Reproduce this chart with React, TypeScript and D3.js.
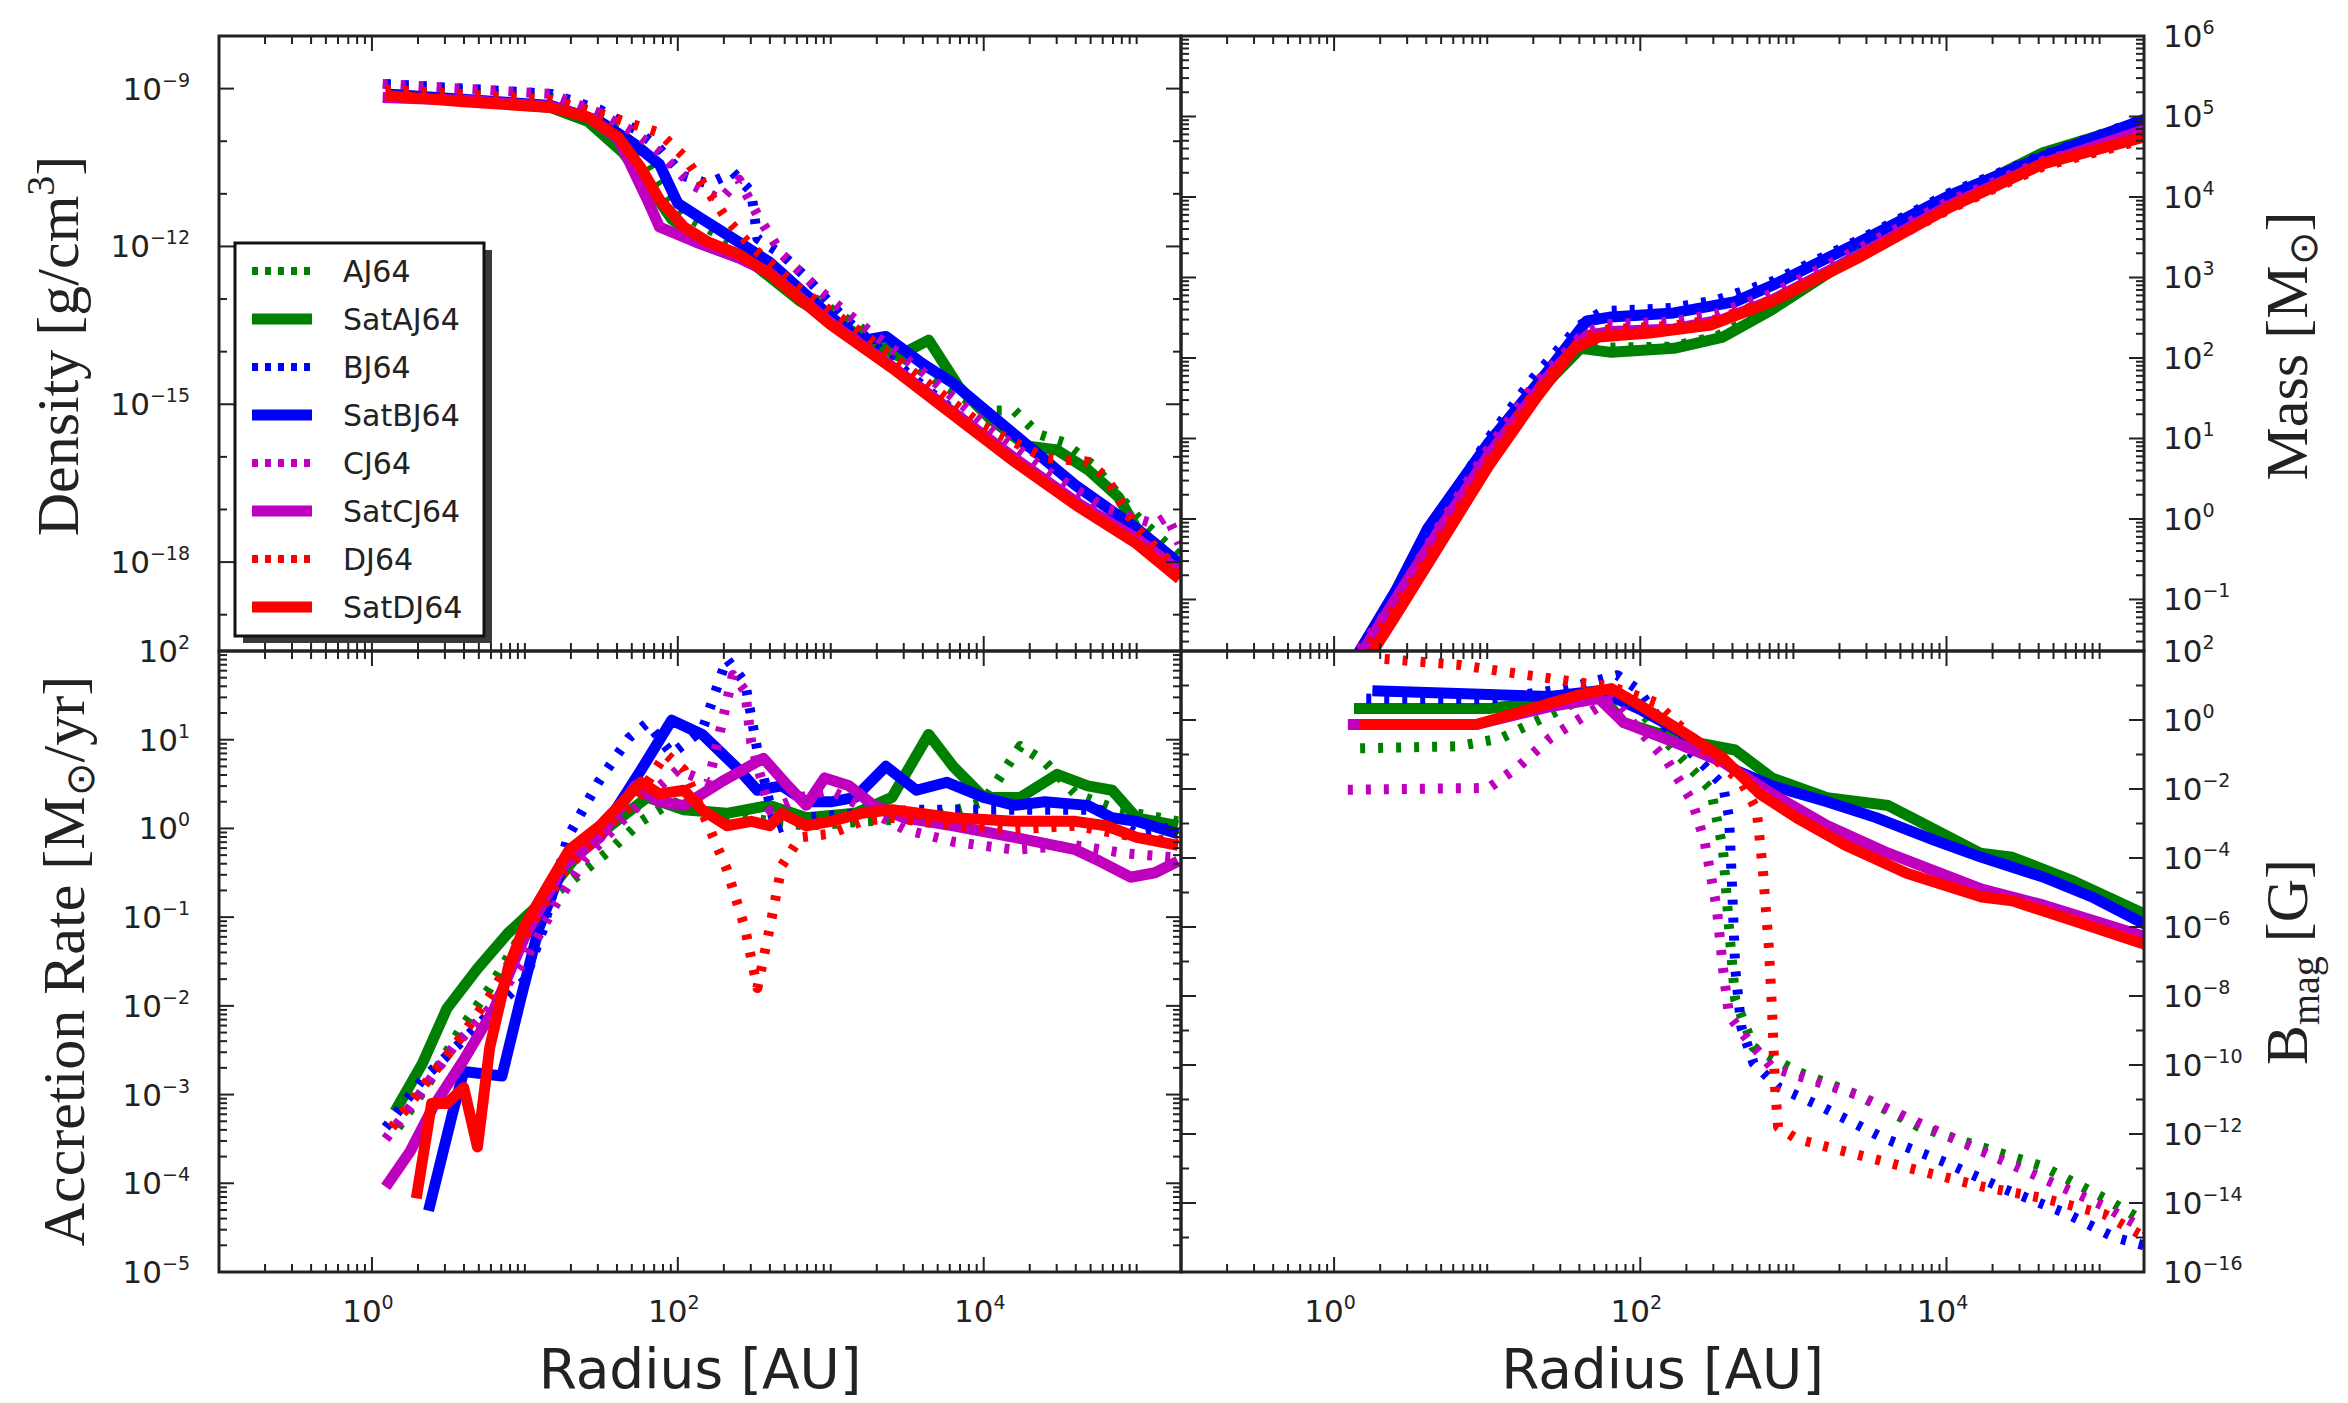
import * as d3 from 'd3'

// series names / styles (legend order = draw order)
const names = ['AJ64', 'SatAJ64', 'BJ64', 'SatBJ64', 'CJ64', 'SatCJ64', 'DJ64', 'SatDJ64']
const colors = ['#008000', '#008000', '#0000ff', '#0000ff', '#bf00bf', '#bf00bf', '#ff0000', '#ff0000']
const dotted = [true, false, true, false, true, false, true, false]

// all points are [log10 radius (AU), log10 value]
// --- density [g/cm^3]
const densAJ64 = [[0.09,-8.95],[1.17,-9.17],[1.49,-9.54],[1.72,-10.06],[1.88,-10.81],[2.04,-11.4],[2.4,-12.0],[2.8,-12.82],[3.2,-13.56],[3.6,-14.38],[4.0,-15.12],[4.2,-15.12],[4.36,-15.57],[4.52,-15.72],[4.72,-16.17],[5.0,-17.13],[5.28,-17.88]]
const densSatAJ64 = [[0.09,-9.1],[1.17,-9.36],[1.41,-9.62],[1.64,-10.21],[1.8,-10.81],[1.96,-11.48],[2.2,-12.0],[2.48,-12.3],[2.8,-13.04],[3.2,-13.71],[3.44,-14.08],[3.64,-13.78],[3.84,-14.68],[4.04,-15.27],[4.28,-15.79],[4.48,-15.87],[4.68,-16.24],[4.88,-16.76],[5.0,-17.36],[5.28,-18.03]]
const densBJ64 = [[0.09,-8.91],[1.17,-9.1],[1.49,-9.4],[1.72,-9.77],[1.88,-10.14],[2.04,-10.66],[2.2,-10.81],[2.36,-10.59],[2.48,-10.96],[2.52,-11.85],[2.68,-12.15],[2.84,-12.59],[3.08,-13.34],[3.4,-14.16],[3.8,-15.12],[4.2,-16.09],[4.6,-16.83],[5.0,-17.51],[5.28,-18.1]]
const densSatBJ64 = [[0.09,-9.1],[1.17,-9.32],[1.49,-9.62],[1.72,-10.06],[1.88,-10.44],[2.0,-11.18],[2.16,-11.48],[2.4,-11.92],[2.6,-12.3],[3.0,-13.34],[3.2,-13.79],[3.36,-13.71],[3.6,-14.23],[3.8,-14.6],[4.2,-15.57],[4.6,-16.54],[5.0,-17.36],[5.28,-18.03]]
const densCJ64 = [[0.07,-8.91],[1.17,-9.1],[1.49,-9.47],[1.72,-9.84],[1.88,-10.21],[2.08,-10.81],[2.28,-11.11],[2.4,-10.73],[2.52,-11.4],[2.68,-12.15],[2.92,-12.82],[3.2,-13.49],[3.6,-14.38],[4.0,-15.35],[4.4,-16.24],[4.8,-16.98],[5.12,-17.28],[5.2,-17.13],[5.28,-17.65]]
const densSatCJ64 = [[0.07,-9.17],[0.6,-9.22],[1.17,-9.34],[1.41,-9.54],[1.61,-9.95],[1.8,-11.11],[1.88,-11.63],[2.12,-11.92],[2.4,-12.22],[2.6,-12.5],[3.0,-13.45],[3.4,-14.28],[3.8,-15.15],[4.2,-16.02],[4.6,-16.85],[5.0,-17.55],[5.28,-18.17]]
const densDJ64 = [[0.09,-9.02],[1.17,-9.21],[1.49,-9.47],[1.72,-9.69],[1.88,-9.84],[2.04,-10.29],[2.2,-10.96],[2.32,-11.48],[2.48,-12.0],[2.8,-12.82],[3.2,-13.64],[3.6,-14.53],[4.0,-15.42],[4.4,-16.02],[4.68,-16.09],[4.8,-16.39],[5.0,-17.36],[5.28,-18.17]]
const densSatDJ64 = [[0.09,-9.13],[0.6,-9.25],[1.17,-9.36],[1.41,-9.54],[1.61,-9.92],[1.76,-10.51],[1.88,-11.11],[2.04,-11.63],[2.2,-11.92],[2.4,-12.15],[2.6,-12.52],[3.0,-13.49],[3.4,-14.31],[3.8,-15.2],[4.2,-16.09],[4.6,-16.91],[5.0,-17.65],[5.28,-18.32]]

// --- enclosed mass [Msun]
const massAJ64 = [[0.1,-1.9],[0.4,-1.15],[0.7,-0.28],[1.0,0.68],[1.3,1.55],[1.6,2.16],[1.8,2.13],[2.2,2.14],[2.5,2.27],[2.86,2.62],[3.42,3.3],[4.02,3.96],[4.63,4.52],[5.3,4.93]]
const massSatAJ64 = [[0.1,-1.95],[0.4,-1.1],[0.7,-0.22],[1.01,0.75],[1.41,1.73],[1.61,2.12],[1.81,2.07],[2.22,2.12],[2.54,2.26],[2.86,2.6],[3.42,3.29],[4.02,3.97],[4.63,4.55],[5.3,4.94]]
const massBJ64 = [[0.1,-1.85],[0.4,-0.95],[0.7,0.05],[1.0,0.98],[1.3,1.75],[1.6,2.4],[1.75,2.58],[2.2,2.62],[2.5,2.72],[2.86,2.95],[3.42,3.46],[4.02,4.05],[4.63,4.52],[5.3,4.98]]
const massSatBJ64 = [[0.1,-1.85],[0.4,-0.9],[0.61,-0.12],[1.01,0.95],[1.41,1.87],[1.65,2.46],[1.81,2.51],[2.22,2.56],[2.62,2.7],[2.86,2.9],[3.42,3.43],[4.02,4.02],[4.63,4.5],[5.3,4.97]]
const massCJ64 = [[0.1,-1.8],[0.4,-1.0],[0.7,-0.05],[1.0,0.85],[1.3,1.65],[1.6,2.25],[1.75,2.42],[2.2,2.45],[2.5,2.55],[2.86,2.8],[3.42,3.35],[4.02,3.95],[4.63,4.45],[5.3,4.8]]
const massSatCJ64 = [[0.1,-1.9],[0.4,-1.0],[0.7,-0.1],[1.01,0.8],[1.41,1.8],[1.65,2.28],[1.81,2.33],[2.22,2.36],[2.54,2.48],[2.86,2.72],[3.42,3.27],[4.02,3.9],[4.63,4.42],[5.3,4.84]]
const massDJ64 = [[0.1,-1.9],[0.4,-1.1],[0.7,-0.2],[1.0,0.7],[1.3,1.55],[1.6,2.2],[1.75,2.35],[2.2,2.4],[2.5,2.48],[2.86,2.72],[3.42,3.25],[4.02,3.85],[4.63,4.38],[5.3,4.72]]
const massSatDJ64 = [[0.1,-2.1],[0.39,-1.24],[0.69,-0.32],[1.01,0.66],[1.33,1.53],[1.57,2.12],[1.73,2.26],[2.06,2.31],[2.46,2.41],[2.86,2.7],[3.42,3.24],[4.02,3.87],[4.63,4.41],[5.3,4.75]]

// --- accretion rate [Msun/yr]
const accAJ64 = [[0.17,-3.37],[0.37,-2.87],[0.57,-2.29],[0.77,-1.8],[0.97,-1.22],[1.17,-0.77],[1.37,-0.5],[1.56,-0.24],[1.76,0.08],[1.96,0.3],[2.2,0.17],[2.44,0.12],[2.84,0.03],[3.24,0.08],[3.64,0.12],[4.0,0.3],[4.24,0.93],[4.4,0.75],[4.6,0.39],[4.88,0.21],[5.27,0.08]]
const accSatAJ64 = [[0.15,-3.19],[0.33,-2.65],[0.49,-2.03],[0.69,-1.58],[0.89,-1.18],[1.09,-0.86],[1.33,-0.33],[1.56,0.03],[1.8,0.35],[2.04,0.21],[2.32,0.17],[2.6,0.26],[2.84,0.12],[3.16,0.17],[3.4,0.35],[3.64,1.06],[3.8,0.7],[4.0,0.35],[4.24,0.35],[4.48,0.61],[4.68,0.48],[4.84,0.43],[5.0,0.12],[5.27,0.03]]
const accBJ64 = [[0.09,-3.37],[0.33,-2.83],[0.6,-2.38],[0.8,-2.03],[1.0,-1.71],[1.12,-1.13],[1.28,-0.1],[1.48,0.52],[1.68,1.02],[1.8,1.19],[1.96,0.84],[2.16,1.11],[2.32,1.91],[2.44,1.64],[2.52,0.88],[2.64,-0.01],[2.84,0.12],[3.16,0.17],[3.56,0.21],[4.0,0.21],[4.4,0.21],[4.76,0.21],[5.0,-0.06],[5.27,0.03]]
const accSatBJ64 = [[0.37,-4.31],[0.53,-3.19],[0.6,-2.74],[0.85,-2.79],[0.97,-1.94],[1.09,-1.13],[1.25,-0.42],[1.41,-0.1],[1.56,0.12],[1.76,0.66],[1.96,1.22],[2.16,1.06],[2.4,0.66],[2.52,0.43],[2.68,0.48],[2.84,0.3],[3.0,0.3],[3.16,0.35],[3.36,0.7],[3.56,0.43],[3.76,0.52],[4.0,0.35],[4.2,0.26],[4.4,0.3],[4.68,0.26],[4.84,0.12],[5.0,0.08],[5.27,-0.06]]
const accCJ64 = [[0.09,-3.5],[0.29,-3.05],[0.53,-2.47],[0.77,-2.03],[1.0,-1.49],[1.2,-0.86],[1.4,-0.33],[1.6,0.03],[1.8,0.35],[2.0,0.66],[2.2,0.52],[2.36,1.73],[2.44,1.55],[2.48,0.97],[2.6,0.21],[2.8,0.35],[3.0,0.43],[3.24,0.21],[3.48,-0.01],[3.8,-0.15],[4.2,-0.24],[4.6,-0.19],[4.92,-0.28],[5.27,-0.33]]
const accSatCJ64 = [[0.09,-4.04],[0.25,-3.64],[0.4,-3.14],[0.6,-2.61],[0.8,-2.03],[1.0,-1.22],[1.25,-0.42],[1.49,-0.1],[1.72,0.48],[1.88,0.3],[2.04,0.26],[2.28,0.52],[2.56,0.79],[2.72,0.48],[2.84,0.26],[2.96,0.57],[3.12,0.48],[3.28,0.26],[3.48,0.12],[3.8,0.03],[4.2,-0.1],[4.6,-0.24],[4.76,-0.37],[4.96,-0.55],[5.12,-0.5],[5.27,-0.37]]
const accDJ64 = [[0.13,-3.37],[0.33,-2.92],[0.57,-2.38],[0.77,-1.89],[1.0,-1.22],[1.25,-0.5],[1.49,-0.06],[1.72,0.3],[1.92,0.84],[2.04,0.66],[2.2,0.03],[2.32,-0.46],[2.44,-1.13],[2.52,-1.8],[2.6,-1.13],[2.68,-0.42],[2.8,-0.1],[3.0,-0.06],[3.2,0.08],[3.4,0.12],[3.8,0.03],[4.2,-0.01],[4.6,0.03],[5.0,-0.1],[5.27,-0.15]]
const accSatDJ64 = [[0.29,-4.17],[0.39,-3.1],[0.49,-3.1],[0.6,-2.92],[0.69,-3.59],[0.77,-2.47],[0.89,-1.58],[1.0,-1.09],[1.17,-0.59],[1.29,-0.24],[1.49,0.03],[1.64,0.3],[1.76,0.52],[1.88,0.39],[2.04,0.43],[2.16,0.21],[2.32,0.03],[2.48,0.08],[2.6,0.03],[2.68,0.17],[2.84,0.03],[3.0,0.08],[3.2,0.17],[3.4,0.21],[3.8,0.12],[4.2,0.08],[4.6,0.08],[4.8,0.03],[5.0,-0.1],[5.27,-0.19]]

// --- magnetic field [G]
const bAJ64 = [[0.17,-0.82],[0.81,-0.76],[1.09,-0.53],[1.41,0.16],[1.73,0.85],[1.93,0.62],[2.22,-0.87],[2.46,-2.02],[2.54,-3.75],[2.58,-6.05],[2.62,-8.11],[2.74,-9.49],[3.02,-10.18],[3.42,-10.87],[3.82,-11.79],[4.22,-12.37],[4.63,-12.94],[5.03,-13.86],[5.3,-14.55]]
const bSatAJ64 = [[0.13,0.33],[1.01,0.33],[1.49,0.62],[1.73,0.79],[1.89,-0.07],[2.22,-0.53],[2.62,-0.87],[2.86,-1.68],[3.22,-2.25],[3.62,-2.48],[3.82,-2.94],[4.22,-3.86],[4.43,-3.98],[4.83,-4.67],[5.3,-5.64]]
const bBJ64 = [[0.21,0.62],[1.01,0.6],[1.5,0.9],[1.85,1.3],[1.98,0.9],[2.18,-0.3],[2.42,-1.33],[2.54,-1.9],[2.58,-2.83],[2.6,-4.9],[2.62,-7.2],[2.66,-8.9],[2.74,-9.95],[2.9,-10.64],[3.18,-11.2],[3.58,-12.1],[3.98,-12.8],[4.38,-13.6],[4.78,-14.3],[5.1,-15.0],[5.3,-15.24]]
const bSatBJ64 = [[0.25,0.85],[1.01,0.74],[1.41,0.68],[1.73,0.85],[2.01,0.28],[2.34,-0.53],[2.62,-1.45],[2.86,-1.91],[3.22,-2.37],[3.54,-2.83],[3.94,-3.52],[4.23,-3.98],[4.63,-4.55],[4.95,-5.13],[5.3,-5.93]]
const bCJ64 = [[0.09,-2.02],[1.01,-1.97],[1.21,-1.33],[1.41,-0.53],[1.61,0.05],[1.81,0.62],[2.18,-1.22],[2.34,-2.37],[2.42,-3.52],[2.5,-5.47],[2.54,-7.2],[2.58,-8.57],[2.7,-9.26],[2.86,-10.07],[3.02,-10.3],[3.42,-10.87],[3.82,-11.68],[4.22,-12.48],[4.63,-13.29],[5.03,-14.09],[5.3,-14.78]]
const bSatCJ64 = [[0.09,-0.13],[0.93,-0.13],[1.41,0.39],[1.73,0.62],[1.89,-0.07],[2.22,-0.64],[2.54,-1.22],[2.86,-2.14],[3.22,-3.06],[3.62,-3.86],[4.23,-4.9],[4.63,-5.36],[5.3,-6.28]]
const bDJ64 = [[0.33,1.77],[0.81,1.6],[1.25,1.31],[1.61,1.08],[1.81,0.97],[2.1,0.51],[2.42,-0.87],[2.66,-1.79],[2.76,-2.6],[2.8,-4.32],[2.84,-6.62],[2.86,-8.34],[2.88,-10.64],[2.9,-11.8],[3.02,-12.14],[3.42,-12.6],[3.82,-13.06],[4.23,-13.52],[4.63,-13.86],[5.03,-14.32],[5.3,-15.0]]
const bSatDJ64 = [[0.17,-0.13],[0.93,-0.13],[1.25,0.28],[1.61,0.74],[1.81,0.91],[2.01,0.39],[2.3,-0.41],[2.54,-1.1],[2.78,-2.14],[3.02,-2.83],[3.34,-3.63],[3.74,-4.44],[4.23,-5.13],[4.43,-5.24],[4.83,-5.82],[5.3,-6.51]]

// tick label exponents
const densityLabels = [-9, -12, -15, -18]
const massLabels = [-1, 0, 1, 2, 3, 4, 5, 6]
const accLabels = [-5, -4, -3, -2, -1, 0, 1, 2]
const bLabels = [-16, -14, -12, -10, -8, -6, -4, -2, 0, 2]
const xLabels = [0, 2, 4]

const L = 219, M = 1181, R = 2144, T = 36, H = 651, B = 1272
const INK = '#222'
const TICK_FONT = 'DejaVu Sans, sans-serif'
const SERIF = 'Liberation Serif, Times New Roman, serif'

const fmt = (e: number) => (e < 0 ? '\u2212' + Math.abs(e) : String(e))

function Pow({ x, y, e, anchor }: any) {
  return (
    <text x={x} y={y} textAnchor={anchor} fontFamily={TICK_FONT} fontSize={31} fill={INK}>
      <tspan>10</tspan>
      <tspan dy={-13} fontSize={19}>{fmt(e)}</tspan>
    </text>
  )
}

type Panel = {
  id: string
  x0: number; x1: number; y0: number; y1: number
  yDomain: [number, number]
  data: number[][][]
  majors: number[]
  minors: number[]
  labels: number[]
  side: 'left' | 'right'
  showX: boolean
}

function decadeTicks(lo: number, hi: number, sub: boolean) {
  const out: number[] = []
  for (let k = Math.floor(lo) - 1; k <= Math.ceil(hi); k++) {
    if (sub) for (let m = 2; m <= 9; m++) out.push(Math.log10(m) + k)
    else out.push(k)
  }
  return out.filter(v => v >= lo - 1e-6 && v <= hi + 1e-6)
}

const xLo = -1, xHi = 5.29
const xMajors = [0, 2, 4]
const xMinors = [...decadeTicks(xLo, xHi, true), -1, 1, 3, 5]

const panels: Panel[] = [
  {
    id: 'dens', x0: L, x1: M, y0: T, y1: H, yDomain: [-19.69, -8],
    data: [densAJ64, densSatAJ64, densBJ64, densSatBJ64, densCJ64, densSatCJ64, densDJ64, densSatDJ64],
    majors: densityLabels, minors: decadeTicks(-19.69, -8, false).filter(v => !densityLabels.includes(v)),
    labels: densityLabels, side: 'left', showX: false,
  },
  {
    id: 'mass', x0: M, x1: R, y0: T, y1: H, yDomain: [-1.64, 6],
    data: [massAJ64, massSatAJ64, massBJ64, massSatBJ64, massCJ64, massSatCJ64, massDJ64, massSatDJ64],
    majors: decadeTicks(-1.64, 6, false), minors: decadeTicks(-1.64, 6, true),
    labels: massLabels, side: 'right', showX: false,
  },
  {
    id: 'acc', x0: L, x1: M, y0: H, y1: B, yDomain: [-5, 2],
    data: [accAJ64, accSatAJ64, accBJ64, accSatBJ64, accCJ64, accSatCJ64, accDJ64, accSatDJ64],
    majors: decadeTicks(-5, 2, false), minors: decadeTicks(-5, 2, true),
    labels: accLabels, side: 'left', showX: true,
  },
  {
    id: 'bmag', x0: M, x1: R, y0: H, y1: B, yDomain: [-16, 2],
    data: [bAJ64, bSatAJ64, bBJ64, bSatBJ64, bCJ64, bSatCJ64, bDJ64, bSatDJ64],
    majors: bLabels, minors: decadeTicks(-16, 2, false).filter(v => !bLabels.includes(v)),
    labels: bLabels, side: 'right', showX: true,
  },
]

function PanelView({ p }: { p: Panel }) {
  const xs = d3.scaleLog().domain([10 ** xLo, 10 ** xHi]).range([p.x0, p.x1])
  const ys = d3.scaleLog().domain([10 ** p.yDomain[0], 10 ** p.yDomain[1]]).range([p.y1, p.y0])
  const line = d3.line<number[]>()
    .x(d => xs(10 ** d[0]))
    .y(d => ys(10 ** d[1]))
  const MAJ = 15, MIN = 8

  return (
    <g>
      <defs>
        <clipPath id={'clip-' + p.id}>
          <rect x={p.x0} y={p.y0} width={p.x1 - p.x0} height={p.y1 - p.y0} />
        </clipPath>
      </defs>
      <g clipPath={`url(#clip-${p.id})`}>
        {p.data.map((s, i) => (
          <path
            key={i}
            d={line(s) || ''}
            fill="none"
            stroke={colors[i]}
            strokeWidth={dotted[i] ? 10 : 11}
            strokeDasharray={dotted[i] ? '5 13' : undefined}
            strokeLinejoin="round"
          />
        ))}
      </g>
      {/* ticks, inward on all four sides */}
      <g stroke={INK} strokeWidth={2}>
        {[...xMajors.map(v => [v, MAJ]), ...xMinors.map(v => [v, MIN])].map(([v, len], i) => {
          const x = xs(10 ** v)
          return (
            <g key={'x' + i}>
              <line x1={x} x2={x} y1={p.y1} y2={p.y1 - len} />
              <line x1={x} x2={x} y1={p.y0} y2={p.y0 + len} />
            </g>
          )
        })}
        {[...p.majors.map(v => [v, MAJ]), ...p.minors.map(v => [v, MIN])].map(([v, len], i) => {
          const y = ys(10 ** v)
          return (
            <g key={'y' + i}>
              <line x1={p.x0} x2={p.x0 + len} y1={y} y2={y} />
              <line x1={p.x1} x2={p.x1 - len} y1={y} y2={y} />
            </g>
          )
        })}
      </g>
      <rect x={p.x0} y={p.y0} width={p.x1 - p.x0} height={p.y1 - p.y0} fill="none" stroke={INK} strokeWidth={3} />
      {p.labels.map(e => (
        <Pow
          key={'l' + e}
          x={p.side === 'left' ? 190 : 2163}
          y={ys(10 ** e) + 11}
          e={e}
          anchor={p.side === 'left' ? 'end' : 'start'}
        />
      ))}
      {p.showX && xLabels.map(e => (
        <Pow key={'xl' + e} x={xs(10 ** e) - 4} y={1322} e={e} anchor="middle" />
      ))}
    </g>
  )
}

function Legend() {
  const x0 = 235, y0 = 243, w = 249, h = 393
  return (
    <g>
      <rect x={x0 + 8} y={y0 + 7} width={w} height={h} fill="#3a3a3a" />
      <rect x={x0} y={y0} width={w} height={h} fill="#fff" stroke="#111" strokeWidth={3} />
      {names.map((n, i) => {
        const y = 271 + i * 48
        return (
          <g key={n}>
            <line
              x1={252} x2={312} y1={y} y2={y}
              stroke={colors[i]}
              strokeWidth={dotted[i] ? 8 : 11}
              strokeDasharray={dotted[i] ? '6 7' : undefined}
            />
            <text x={343} y={y + 11} fontFamily={TICK_FONT} fontSize={30} fill={INK}>{n}</text>
          </g>
        )
      })}
    </g>
  )
}

export default function App() {
  return (
    <div style={{ position: 'absolute', left: 0, top: 0 }}>
      <svg width={2348} height={1403} style={{ display: 'block', background: '#fff' }}>
        {panels.map(p => <PanelView key={p.id} p={p} />)}
        <Legend />
        {/* axis titles */}
        <text transform="translate(78,346) rotate(-90)" textAnchor="middle" fontFamily={SERIF} fontSize={60} fill={INK}>
          Density<tspan dx={14}>[g/cm</tspan><tspan dy={-24} fontSize={40}>3</tspan><tspan dy={24}>]</tspan>
        </text>
        <text transform="translate(84,961) rotate(-90)" textAnchor="middle" fontFamily={SERIF} fontSize={60} fill={INK}>
          Accretion Rate [M<tspan dy={10} fontSize={40}>{'\u2299'}</tspan><tspan dy={-10}>/yr]</tspan>
        </text>
        <text transform="translate(2307,346) rotate(-90)" textAnchor="middle" fontFamily={SERIF} fontSize={60} fill={INK}>
          Mass [M<tspan dy={10} fontSize={40}>{'\u2299'}</tspan><tspan dy={-10}>]</tspan>
        </text>
        <text transform="translate(2307,962) rotate(-90)" textAnchor="middle" fontFamily={SERIF} fontSize={60} fill={INK}>
          B<tspan dy={12} fontSize={40}>mag</tspan><tspan dy={-12} dx={14}>[G]</tspan>
        </text>
        <text x={(L + M) / 2} y={1388} textAnchor="middle" fontFamily={TICK_FONT} fontSize={55} fill={INK}>Radius [AU]</text>
        <text x={(M + R) / 2} y={1388} textAnchor="middle" fontFamily={TICK_FONT} fontSize={55} fill={INK}>Radius [AU]</text>
      </svg>
    </div>
  )
}
